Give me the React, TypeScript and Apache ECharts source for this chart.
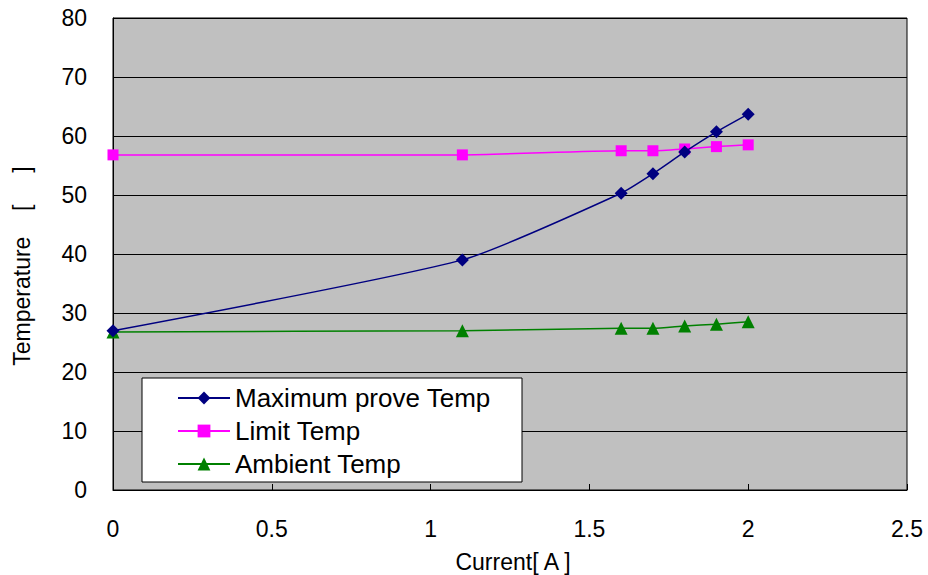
import React, { useEffect, useRef } from "react";
import * as echarts from "echarts";

const currents = [0, 1.1, 1.6, 1.7, 1.8, 1.9, 2.0];
const maxProbeTemp = [27.0, 39.0, 50.3, 53.6, 57.3, 60.7, 63.7];
const limitTemp = [56.8, 56.8, 57.5, 57.5, 57.8, 58.2, 58.5];
const ambientTemp = [26.8, 27.0, 27.4, 27.4, 27.8, 28.1, 28.5];
const seriesNames = ["Maximum prove Temp", "Limit Temp", "Ambient Temp"];

const FONT = "'Liberation Sans', Arial, sans-serif";

export default function App() {
  const ref = useRef<HTMLDivElement>(null);
  useEffect(() => {
    if (!ref.current) return;
    const chart = echarts.init(ref.current, undefined, { renderer: "svg" });
    const pair = (ys: number[]) => currents.map((x, i) => [x, ys[i]]);
    chart.setOption({
      animation: false,
      textStyle: { fontFamily: FONT },
      grid: {
        left: 113, top: 18, right: 21, bottom: 85,
        outerBoundsMode: "none", containLabel: false,
        show: true, backgroundColor: "#C0C0C0", borderColor: "#000", borderWidth: 1,
      },
      xAxis: {
        type: "value",
        min: 0,
        max: 2.5,
        interval: 0.5,
        name: "Current[ A ]",
        nameLocation: "middle",
        nameGap: 60,
        nameTextStyle: { fontSize: 23, color: "#000", fontFamily: FONT, padding: [0, 0, 0, 6] },
        axisLine: { lineStyle: { color: "#000", width: 1 } },
        axisTick: { show: true, inside: true, length: 6, lineStyle: { color: "#000" } },
        axisLabel: { fontSize: 23, color: "#000", margin: 27, fontFamily: FONT },
        splitLine: { show: false },
      },
      yAxis: {
        type: "value",
        min: 0,
        max: 80,
        interval: 10,
        name: "Temperature    [     ]",
        nameLocation: "middle",
        nameGap: 80,
        nameTextStyle: { fontSize: 23, color: "#000", fontFamily: FONT, padding: [0, 24, 0, 0] },
        axisLine: { show: true, lineStyle: { color: "#000", width: 1 } },
        axisTick: { show: false },
        axisLabel: { fontSize: 23, color: "#000", margin: 26, fontFamily: FONT },
        splitLine: { show: true, lineStyle: { color: "#000", width: 1 } },
      },
      graphic: [
        {
          type: "rect",
          z: 3,
          shape: { x: 142, y: 378, width: 380, height: 104 },
          style: { fill: "#fff", stroke: "#000", lineWidth: 1 },
        },
      ],
      legend: {
        z: 5,
        orient: "vertical",
        left: 177,
        top: 385,
        padding: 0,
        itemWidth: 52,
        itemHeight: 16,
        itemGap: 7,
        textStyle: { fontSize: 26, color: "#000", fontFamily: FONT },
        data: seriesNames,
      },
      series: [
        {
          name: seriesNames[0],
          type: "line",
          data: pair(maxProbeTemp),
          smooth: 0.2,
          symbol: "diamond",
          symbolSize: 13,
          itemStyle: { color: "#000080" },
          lineStyle: { color: "#000080", width: 1.5 },
          z: 4,
        },
        {
          name: seriesNames[1],
          type: "line",
          data: pair(limitTemp),
          smooth: 0.2,
          symbol: "rect",
          symbolSize: 11,
          itemStyle: { color: "#FF00FF" },
          lineStyle: { color: "#FF00FF", width: 1.5 },
          z: 3,
        },
        {
          name: seriesNames[2],
          type: "line",
          data: pair(ambientTemp),
          smooth: 0.2,
          symbol: "triangle",
          symbolSize: 13,
          itemStyle: { color: "#008000" },
          lineStyle: { color: "#008000", width: 1.5 },
          z: 3,
        },
      ],
    });
    return () => chart.dispose();
  }, []);
  return <div ref={ref} style={{ width: 928, height: 575, position: "absolute", left: 0, top: 0, background: "#fff" }} />;
}
